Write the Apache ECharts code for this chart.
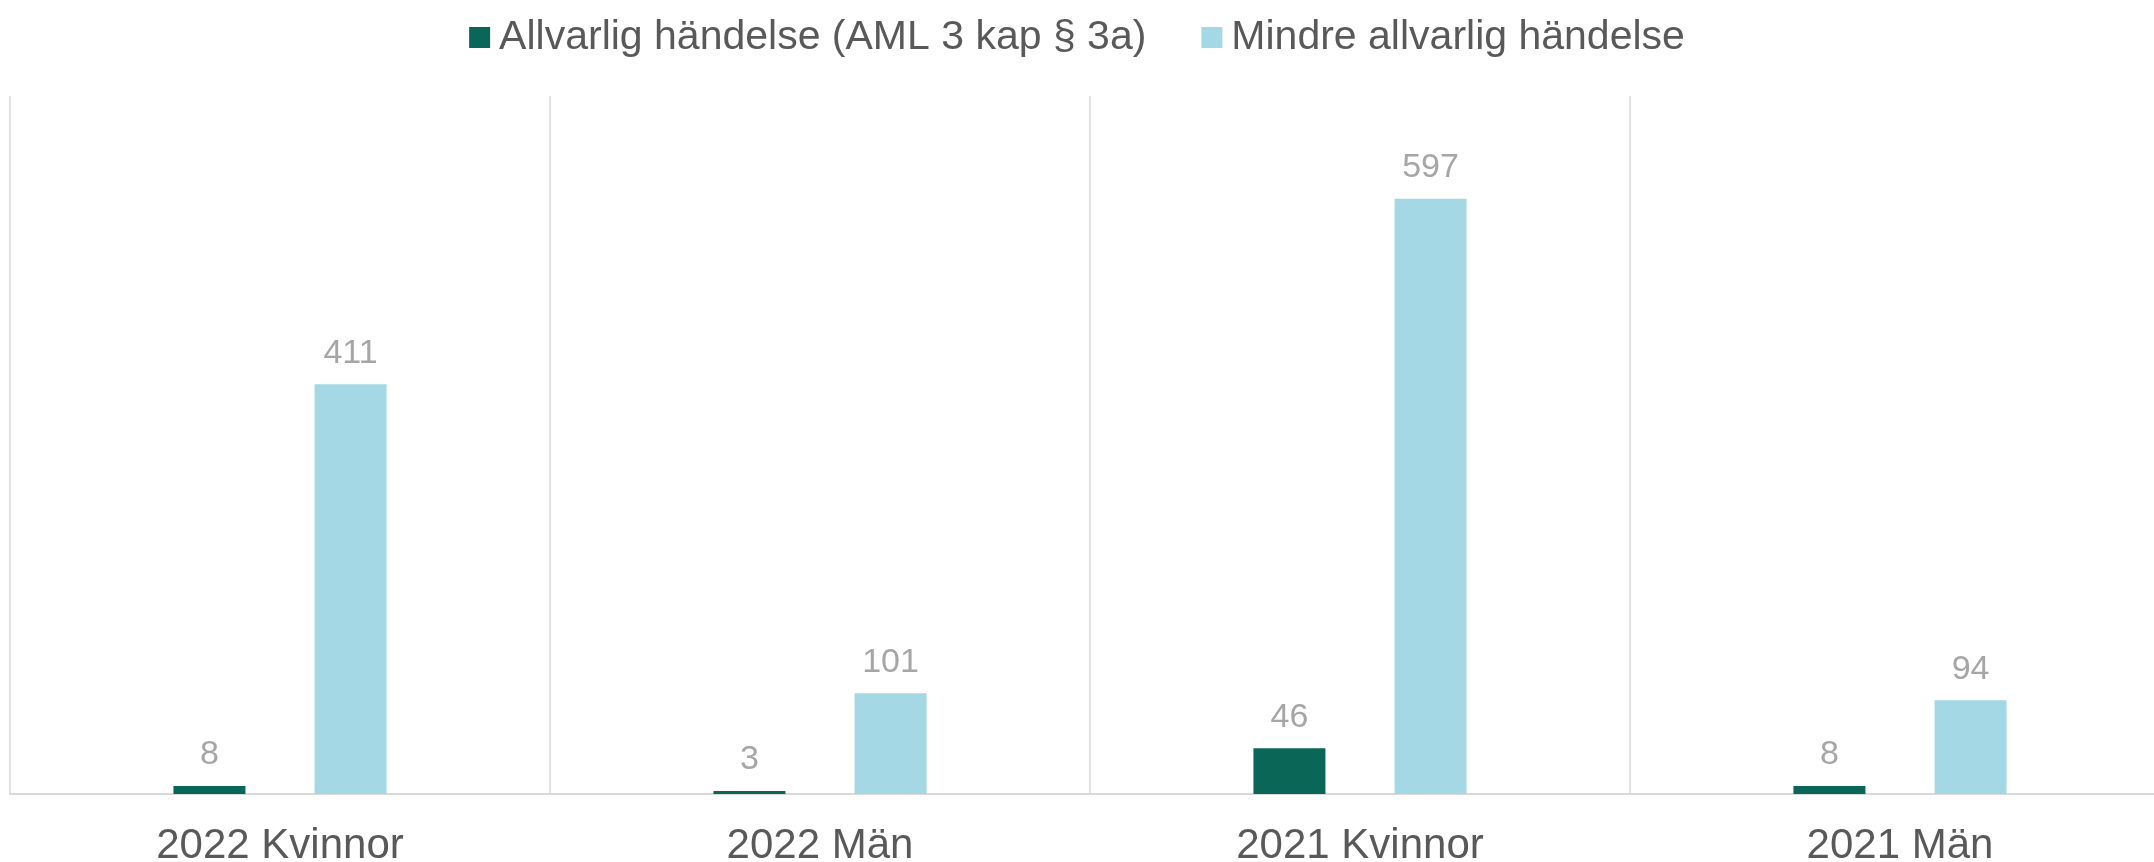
<!DOCTYPE html>
<html>
<head>
<meta charset="utf-8">
<script src="https://cdn.jsdelivr.net/npm/echarts@6/dist/echarts.min.js"></script>
<style>
html,body{margin:0;padding:0;background:#fff;}
#chart{width:2154px;height:862px;}
</style>
</head>
<body>
<div id="chart"></div>
<script>
const categories = ['2022 Kvinnor', '2022 Män', '2021 Kvinnor', '2021 Män'];
const seriesNames = ['Allvarlig händelse (AML 3 kap § 3a)', 'Mindre allvarlig händelse'];
const serious = [8, 3, 46, 8];
const lessSerious = [411, 101, 597, 94];

const chart = echarts.init(document.getElementById('chart'));
const labelStyle = {
  show: true, position: 'top', distance: 14,
  color: '#a6a6a6', fontSize: 34, fontFamily: 'Liberation Sans, Arial, sans-serif'
};
chart.setOption({
  animation: false,
  backgroundColor: '#ffffff',
  textStyle: { fontFamily: 'Liberation Sans, Arial, sans-serif' },
  legend: {
    top: 12, left: 'center',
    itemWidth: 21, itemHeight: 21, itemGap: 55,
    icon: 'rect',
    textStyle: { fontSize: 41, color: '#595959', padding: [0, 0, 0, 4] },
    data: seriesNames
  },
  grid: { left: 10, width: 2160, top: 96, height: 698, containLabel: false, outerBoundsMode: 'none' },
  xAxis: {
    type: 'category', data: categories,
    axisLine: { lineStyle: { color: '#d9d9d9', width: 2 } },
    axisTick: { show: false },
    splitLine: { show: true, interval: 0, lineStyle: { color: '#d9d9d9', width: 1.5 } },
    axisLabel: { fontSize: 42, color: '#595959', margin: 31 }
  },
  yAxis: {
    type: 'value', min: 0, max: 700, show: false,
    splitLine: { show: false }
  },
  series: [
    { name: seriesNames[0], type: 'bar', data: serious, barWidth: 72, barGap: '96%',
      itemStyle: { color: '#0a6656' }, label: labelStyle },
    { name: seriesNames[1], type: 'bar', data: lessSerious, barWidth: 72, barGap: '96%',
      itemStyle: { color: '#a5d8e5' }, label: labelStyle }
  ]
});
</script>
</body>
</html>
